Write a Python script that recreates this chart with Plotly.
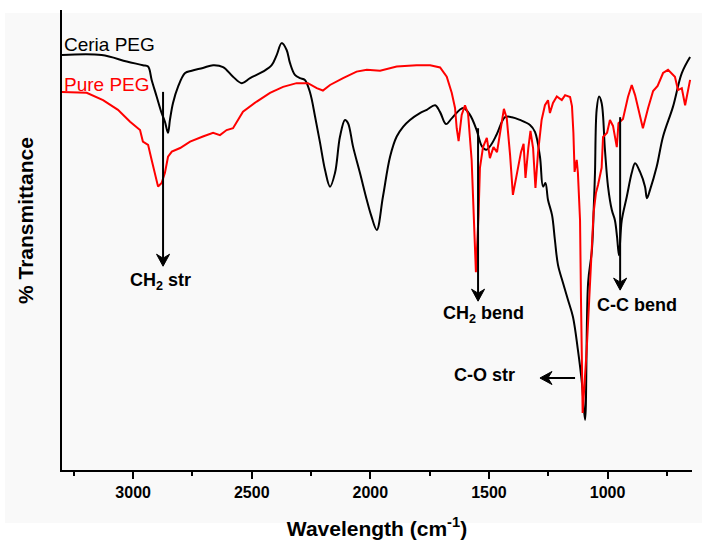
import plotly.graph_objects as go

# ---- data (wavenumber in cm^-1, transmittance in arbitrary % units) ----
ceria_wn = [3300, 3133, 3027, 2959, 2937, 2922, 2901, 2880, 2866, 2853, 2845, 2832, 2811, 2781,
            2753, 2706, 2663, 2621, 2579, 2542, 2507, 2453, 2416, 2395, 2374, 2353, 2339, 2318,
            2297, 2276, 2254, 2233, 2212, 2191, 2170, 2149, 2128, 2107, 2094, 2073, 2044, 2015,
            1997, 1973, 1947, 1917, 1889, 1862, 1833, 1791, 1762, 1727, 1706, 1681, 1656, 1609,
            1580, 1552, 1530, 1512, 1491, 1467, 1432, 1403, 1369, 1327, 1306, 1285, 1272, 1262,
            1251, 1234, 1222, 1209, 1188, 1167, 1146, 1125, 1108, 1095, 1082, 1066, 1057, 1053,
            1046, 1036, 1025, 1011, 998, 982, 969, 960, 952, 940, 919, 898, 884, 863, 842, 834,
            821, 793, 766, 724, 687, 652]
ceria_t = [90.2, 90.2, 88.8, 88.0, 87.7, 84.8, 81.2, 77.6, 75.7, 73.3, 76.1, 79.8, 83.3, 86.3,
           86.8, 87.4, 88.0, 87.6, 85.5, 84.1, 85.2, 86.6, 88.0, 90.2, 92.8, 91.3, 88.5, 85.9,
           85.2, 84.8, 82.0, 76.8, 71.1, 65.2, 61.6, 64.6, 72.5, 76.1, 75.4, 70.3, 64.6, 58.7,
           55.4, 52.2, 59.4, 68.1, 72.5, 74.6, 76.1, 77.6, 78.3, 79.3, 77.8, 75.2, 76.5, 78.7,
           77.2, 73.9, 70.4, 69.6, 70.7, 73.0, 76.7, 76.7, 76.1, 75.0, 73.5, 68.1, 61.6, 62.4,
           58.7, 55.4, 50.0, 44.6, 40.7, 37.0, 33.3, 26.1, 18.9, 10.9, 40.7, 47.8, 58.7, 64.6,
           78.3, 81.2, 79.8, 69.6, 61.6, 56.5, 54.3, 50.7, 46.7, 54.3, 59.4, 64.6, 66.7, 64.8, 61.6, 59.1,
           60.9, 65.9, 72.5, 79.0, 86.3, 89.8]

peg_wn = [3300, 3196, 3127, 3064, 3013, 2971, 2959, 2937, 2922, 2908, 2895, 2880, 2866, 2853,
          2837, 2802, 2760, 2706, 2663, 2634, 2606, 2579, 2537, 2479, 2423, 2368, 2311, 2263,
          2226, 2200, 2170, 2115, 2058, 2015, 1959, 1889, 1805, 1748, 1706, 1678, 1657, 1643,
          1636, 1628, 1615, 1601, 1588, 1573, 1565, 1555, 1544, 1538, 1525, 1509, 1496, 1481,
          1466, 1446, 1437, 1425, 1411, 1399, 1382, 1365, 1354, 1346, 1334, 1325, 1314, 1304,
          1293, 1278, 1264, 1251, 1243, 1230, 1214, 1193, 1179, 1158, 1150, 1144, 1139, 1130,
          1125, 1116, 1112, 1105, 1088, 1074, 1066, 1059, 1049, 1040, 1025, 1019, 1002, 990,
          977, 961, 954, 935, 914, 898, 884, 872, 851, 829, 808, 789, 766, 745, 716, 703, 687,
          673, 652]
peg_t = [82.2, 82.0, 80.4, 78.3, 75.7, 73.9, 71.4, 70.7, 67.4, 64.6, 61.6, 62.4, 64.6, 68.1,
         69.2, 70.0, 71.4, 72.5, 73.3, 72.8, 73.9, 74.3, 77.9, 80.1, 82.0, 83.3, 84.1, 84.1,
         83.0, 82.5, 83.7, 85.2, 86.6, 87.0, 86.8, 87.7, 88.0, 88.0, 87.5, 85.5, 82.0, 78.7,
         74.3, 71.5, 77.2, 79.3, 77.4, 67.4, 55.4, 43.0, 55.4, 65.7, 70.2, 72.2, 67.8, 70.2,
         69.1, 76.1, 78.5, 76.5, 68.5, 59.8, 64.8, 69.1, 70.9, 63.5, 70.0, 73.7, 70.0, 61.3,
         69.1, 76.1, 79.3, 80.4, 77.6, 79.8, 81.2, 80.4, 81.5, 81.1, 79.1, 73.3, 64.8, 67.4,
         64.6, 54.3, 37.0, 12.4, 26.1, 40.7, 47.8, 55.9, 60.2, 62.0, 65.7, 72.4, 73.3, 76.1,
         74.8, 70.2, 75.4, 76.3, 81.1, 83.7, 81.5, 79.1, 74.3, 78.7, 82.4, 83.5, 86.3, 87.0, 85.5, 82.6, 83.0,
         79.3, 84.8]

series_names = ["Ceria PEG", "Pure PEG"]
x_ticks = [3000, 2500, 2000, 1500, 1000]

FONT = "Arial, Liberation Sans, sans-serif"
X_RANGE = [3300, 644]
Y_RANGE = [0, 100]
W, H = 702, 548
M = dict(l=62, r=10, t=10, b=78)
# data units per screen pixel (used only to size arrowheads)
XU = (X_RANGE[0] - X_RANGE[1]) / (W - M["l"] - M["r"])
YU = (Y_RANGE[1] - Y_RANGE[0]) / (H - M["t"] - M["b"])

fig = go.Figure()
fig.add_trace(go.Scatter(x=ceria_wn, y=ceria_t, mode="lines", name=series_names[0],
                         line=dict(color="black", width=2), line_shape="spline",
                         showlegend=False, hoverinfo="skip"))
fig.add_trace(go.Scatter(x=peg_wn, y=peg_t, mode="lines", name=series_names[1],
                         line=dict(color="#ff0000", width=2), line_shape="linear",
                         showlegend=False, hoverinfo="skip"))

shapes = [dict(type="rect", xref="paper", yref="paper", x0=-0.0905, x1=1.02,
               y0=-0.1152, y1=0.9935, fillcolor="#f9f9f9", line=dict(width=0),
               layer="below")]


def down_arrow(x, y_top, y_tip, w=6.5, h=12, notch=8):
    shapes.append(dict(type="line", xref="x", yref="y", x0=x, x1=x, y0=y_top,
                       y1=y_tip + notch * YU, line=dict(color="black", width=2)))
    path = (f"M {x - w * XU},{y_tip + h * YU} L {x},{y_tip} L {x + w * XU},{y_tip + h * YU} "
            f"L {x},{y_tip + notch * YU} Z")
    shapes.append(dict(type="path", xref="x", yref="y", path=path, fillcolor="black",
                       line=dict(color="black", width=1)))


def left_arrow(y, x_tail, x_tip, w=6.5, h=12, notch=8):
    # screen-left = larger wavenumber (reversed axis)
    shapes.append(dict(type="line", xref="x", yref="y", x0=x_tail, x1=x_tip - notch * XU,
                       y0=y, y1=y, line=dict(color="black", width=2)))
    path = (f"M {x_tip - h * XU},{y + w * YU} L {x_tip},{y} L {x_tip - h * XU},{y - w * YU} "
            f"L {x_tip - notch * XU},{y} Z")
    shapes.append(dict(type="path", xref="x", yref="y", path=path, fillcolor="black",
                       line=dict(color="black", width=1)))


down_arrow(2874, 82.2, 44.3)
down_arrow(1546, 74.3, 36.7)
down_arrow(947, 76.7, 39.1)
left_arrow(20.0, 1137, 1285)

ann = []
# series labels
ann.append(dict(x=3300, y=92.4, xref="x", yref="y", text=series_names[0], showarrow=False,
                xanchor="left", yanchor="middle",
                font=dict(family=FONT, size=19, color="black")))
ann.append(dict(x=3300, y=83.7, xref="x", yref="y", text=series_names[1], showarrow=False,
                xanchor="left", yanchor="middle",
                font=dict(family=FONT, size=19, color="#ff0000")))

lab_font = dict(family=FONT, size=18, color="black", weight="bold")
ann.append(dict(x=2883, y=41.0, xref="x", yref="y", text="CH<sub>2</sub> str", showarrow=False,
                font=lab_font))
ann.append(dict(x=1521, y=33.8, xref="x", yref="y", text="CH<sub>2</sub> bend", showarrow=False,
                font=lab_font))
ann.append(dict(x=878, y=35.9, xref="x", yref="y", text="C-C bend", showarrow=False,
                font=lab_font))
ann.append(dict(x=1519, y=20.7, xref="x", yref="y", text="C-O str", showarrow=False,
                font=lab_font))

# y-axis title
ann.append(dict(x=-0.059, y=0.543, xref="paper", yref="paper", text="% Transmittance",
                showarrow=False, textangle=-90, xanchor="center", yanchor="middle",
                font=dict(family=FONT, size=21, color="black", weight="bold")))

fig.update_layout(
    width=W, height=H,
    margin=M,
    paper_bgcolor="white", plot_bgcolor="rgba(0,0,0,0)",
    showlegend=False,
    hovermode=False,
    annotations=ann,
    shapes=shapes,
    xaxis=dict(
        range=X_RANGE, tickvals=x_ticks, ticktext=[str(v) for v in x_ticks],
        ticks="outside", ticklen=7, tickwidth=1.5, tickcolor="black",
        showline=True, linecolor="black", linewidth=2, showgrid=False, zeroline=False,
        tickfont=dict(family=FONT, size=16, color="black", weight="bold"),
        minor=dict(dtick=250, tick0=0, ticks="outside", ticklen=4, tickwidth=1.5,
                   tickcolor="black", showgrid=False),
        title=dict(text="Wavelength (cm<sup>-1</sup>)", standoff=21,
                   font=dict(family=FONT, size=21, color="black", weight="bold")),
    ),
    yaxis=dict(
        range=Y_RANGE, showticklabels=False, ticks="", showgrid=False, zeroline=False,
        showline=True, linecolor="black", linewidth=2,
    ),
)

fig.write_html("out.html", config={"displayModeBar": False},
               post_script="document.body.style.margin='0';document.body.style.overflow='hidden';")
